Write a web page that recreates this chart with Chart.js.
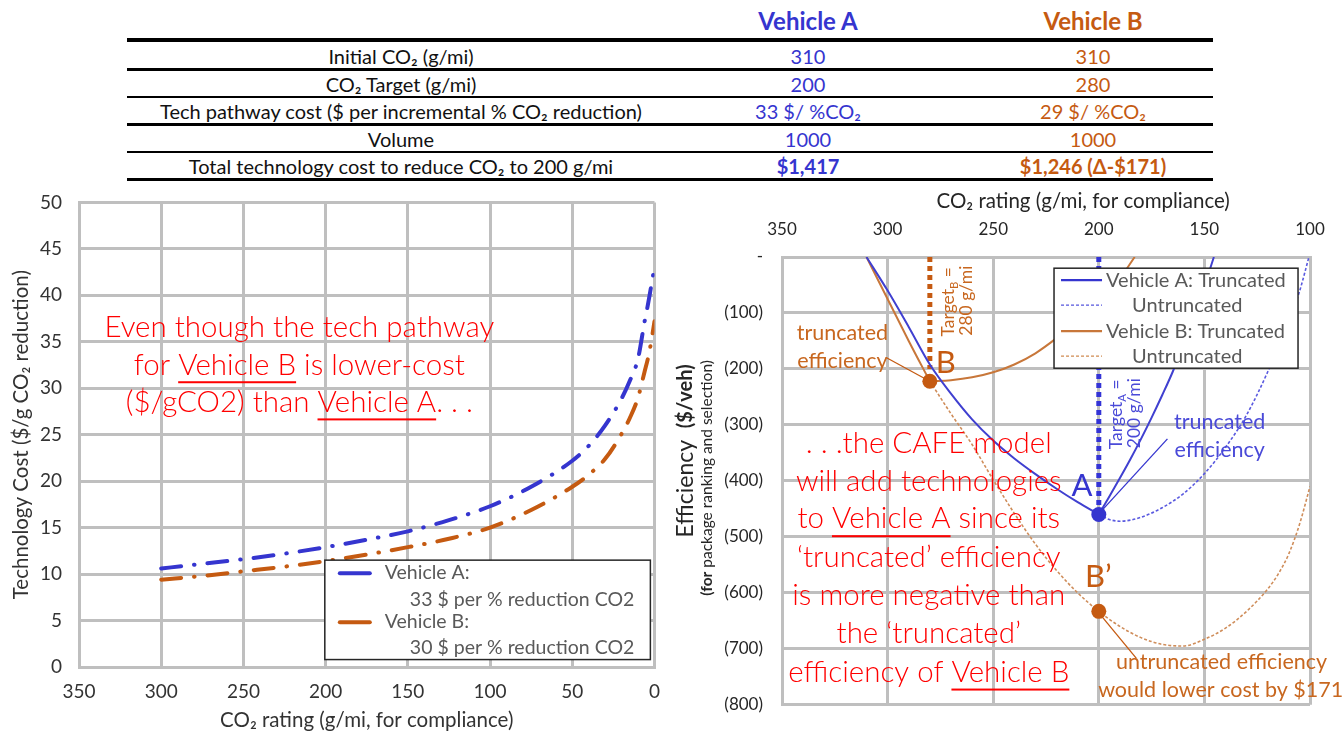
<!DOCTYPE html>
<html><head><meta charset="utf-8">
<script src="https://cdn.jsdelivr.net/npm/chart.js@4.4.1/dist/chart.umd.min.js"></script>
<style>
html,body{margin:0;padding:0;background:#fff;width:1344px;height:734px;overflow:hidden;font-family:Lato,'Open Sans','DejaVu Sans',sans-serif;}
.cell{position:absolute;text-align:center;white-space:nowrap;font-size:20px;line-height:24px;height:24px;}
.hline{position:absolute;left:127px;width:1086px;background:#000;}
#leftWrap{position:absolute;left:0;top:174px;width:673px;height:560px;}
#rightWrap{position:absolute;left:670px;top:185px;width:674px;height:549px;}
</style></head>
<body>
<div id="table"></div>
<div id="leftWrap"><canvas id="leftChart"></canvas></div>
<div id="rightWrap"><canvas id="rightChart"></canvas></div>
<script>
// ---------------- DATA ----------------
const tableHeaders = ['Vehicle A', 'Vehicle B'];
const rowLabels = ['Initial CO₂ (g/mi)', 'CO₂ Target (g/mi)', 'Tech pathway cost ($ per incremental % CO₂ reduction)', 'Volume', 'Total technology cost to reduce CO₂ to 200 g/mi'];
const vehA = ['310', '200', '33 $/ %CO₂', '1000', '$1,417'];
const vehB = ['310', '280', '29 $/ %CO₂', '1000', '$1,246 (Δ-$171)'];

// Left chart: technology cost vs CO2 rating
const leftXTicks = [350, 300, 250, 200, 150, 100, 50, 0];
const leftYTicks = [0, 5, 10, 15, 20, 25, 30, 35, 40, 45, 50];
const co2Left = [300, 275, 250, 225, 200, 175, 150, 125, 100, 75, 50, 40, 30, 20, 15, 10, 6, 4, 2, 0];
const costA = [10.6, 11.1, 11.6, 12.2, 12.9, 13.7, 14.6, 15.8, 17.3, 19.4, 22.2, 23.8, 26.0, 28.9, 30.8, 33.2, 37.2, 39.0, 41.0, 43.0];
const costB = [9.4, 9.8, 10.3, 10.8, 11.4, 12.1, 12.9, 13.8, 15.0, 16.9, 19.4, 20.7, 22.4, 25.1, 26.8, 29.0, 31.8, 33.2, 35.0, 37.2];
const leftLegend = ['Vehicle A:', '33 $ per % reduction CO2', 'Vehicle B:', '30 $ per % reduction CO2'];

// Right chart: efficiency vs CO2 rating
const rightXTicks = [350, 300, 250, 200, 150, 100];
const rightYTicks = [0, -100, -200, -300, -400, -500, -600, -700, -800];
const aTruncLeftX = [310, 300, 290, 280, 270, 260, 250, 240, 230, 220, 210, 200];
const aTruncLeftY = [0, -60, -125, -192, -244, -290, -328, -360, -388, -414, -438, -460];
const aTruncRightX = [200, 195, 190, 185, 180, 175, 170, 165, 160, 155, 150, 145.5];
const aTruncRightY = [-460, -428, -395, -361, -325, -287, -247, -205, -157, -106, -52, 0];
const aUntruncX = [200, 195, 190, 185, 180, 170, 160, 150, 140, 130, 120, 110, 105, 100.5];
const aUntruncY = [-460, -469, -472, -470, -465, -448, -423, -387, -340, -282, -205, -115, -62, 0];
const bTruncLeftX = [310, 300, 290, 280];
const bTruncLeftY = [0, -75, -150, -222];
const bTruncRightX = [280, 270, 260, 250, 240, 230, 220, 210, 200, 190, 183];
const bTruncRightY = [-222, -220, -215, -206, -192, -172, -145, -114, -78, -38, 0];
const bUntruncX = [280, 270, 260, 250, 240, 230, 220, 210, 200, 190, 180, 170, 160, 150, 140, 130, 120, 115, 110, 105, 100];
const bUntruncY = [-222, -280, -335, -398, -458, -513, -560, -600, -633, -660, -680, -692, -695, -683, -663, -633, -593, -566, -530, -478, -410];
const targetBX = [280, 280], targetBY = [0, -200];
const targetAX = [200, 200], targetAY = [0, -455];
const markerX = [200, 280, 200];
const markerY = [-460, -222, -633];
const rightLegend = ['Vehicle A: Truncated', 'Untruncated', 'Vehicle B: Truncated', 'Untruncated'];

// ---------------- STYLE ----------------
const BLUE = '#3535cf', ORANGE = '#c55a11', RED = '#ff0000', GRID = '#bfbfbf', TXT = '#333333', LEG = '#595959';
const LBLUE = '#4a4ad8', LORANGE = '#c8671f';
const FF = "Lato, 'Open Sans', 'DejaVu Sans', sans-serif";
const zip = (xs, ys) => xs.map((x, i) => ({x, y: ys[i]}));

// ---------------- TABLE ----------------
(function buildTable() {
  const t = document.getElementById('table');
  const add = (html, cx, top, style) => {
    const d = document.createElement('div');
    d.className = 'cell';
    d.style.left = (cx - 300) + 'px'; d.style.width = '600px'; d.style.top = top + 'px';
    d.style.cssText += style || '';
    d.innerHTML = html; t.appendChild(d);
  };
  const colA = 808, colB = 1093, colL = 401;
  add(tableHeaders[0], colA, 7, 'font-size:24px;line-height:28px;height:28px;font-weight:bold;color:' + BLUE);
  add(tableHeaders[1], colB, 7, 'font-size:24px;line-height:28px;height:28px;font-weight:bold;color:' + ORANGE);
  const lineYs = [69, 96.5, 124, 151.5, 179];
  rowLabels.forEach((lab, i) => {
    const top = 56 + i * 27.5 - 12;
    const last = i === rowLabels.length - 1;
    add(lab, colL, top, 'color:#111');
    add(vehA[i], colA, top, 'color:' + BLUE + (last ? ';font-weight:bold' : ''));
    add(vehB[i], colB, top, 'color:' + ORANGE + (last ? ';font-weight:bold' : ''));
  });
  const thick = document.createElement('div'); thick.className = 'hline';
  thick.style.top = '38px'; thick.style.height = '4px'; t.appendChild(thick);
  lineYs.forEach(y => {
    const l = document.createElement('div'); l.className = 'hline';
    l.style.top = (y - 1) + 'px'; l.style.height = '2.5px'; t.appendChild(l);
  });
})();

// ---------------- TEXT HELPERS ----------------
function richLine(ctx, segs, cx, cy, size, color, weight) {
  const w = weight || '300';
  const fontOf = s => (s.b ? 'bold' : w) + ' ' + (s.sub ? size * 0.65 : (s.size || size)) + 'px ' + FF;
  const widths = segs.map(s => { ctx.font = fontOf(s); return ctx.measureText(s.t).width; });
  const total = widths.reduce((a, b) => a + b, 0);
  let x = cx - total / 2;
  ctx.fillStyle = color; ctx.textBaseline = 'middle'; ctx.textAlign = 'left';
  segs.forEach((s, i) => {
    ctx.font = fontOf(s);
    ctx.fillText(s.t, x, cy + (s.sub ? size * 0.3 : 0));
    if (s.u) ctx.fillRect(x, cy + size * 0.55, widths[i], 2);
    x += widths[i];
  });
}
const S = t => (typeof t === 'string' ? [{t}] : t);
function rotText(ctx, segs, cx, cy, size, color, weight) {
  ctx.save(); ctx.translate(cx, cy); ctx.rotate(-Math.PI / 2);
  richLine(ctx, S(segs), 0, 0, size, color, weight);
  ctx.restore();
}

// ---------------- LEFT CHART ----------------
const leftPlugin = {
  id: 'leftAnno',
  afterDraw(chart) {
    const {ctx, scales: {x, y}} = chart;
    ctx.save();
    const cx = x.getPixelForValue(216);
    const lines = [
      [{t: 'Even though the tech pathway'}],
      [{t: 'for '}, {t: 'Vehicle B', u: 1}, {t: ' is lower-cost'}],
      [{t: '($/gCO2) than '}, {t: 'Vehicle A', u: 1}, {t: '. . .'}]
    ];
    const ly = [36.5, 32.5, 28.5];
    lines.forEach((l, i) => richLine(ctx, l, cx, y.getPixelForValue(ly[i]), 29.5, RED));
    // legend
    const L = x.getPixelForValue(200.5), R = x.getPixelForValue(2.5);
    const T = y.getPixelForValue(11.5), B = y.getPixelForValue(0.8);
    ctx.fillStyle = '#fff'; ctx.fillRect(L, T, R - L, B - T);
    ctx.strokeStyle = '#262626'; ctx.lineWidth = 1.5; ctx.strokeRect(L, T, R - L, B - T);
    const rows = [13, 40, 62, 88];
    ctx.lineCap = 'round'; ctx.lineWidth = 4;
    [[BLUE, rows[0]], [ORANGE, rows[2]]].forEach(([c, r]) => {
      ctx.strokeStyle = c; ctx.beginPath(); ctx.moveTo(L + 15, T + r); ctx.lineTo(L + 45, T + r); ctx.stroke();
    });
    ctx.font = '19.5px ' + FF; ctx.fillStyle = LEG; ctx.textBaseline = 'middle'; ctx.textAlign = 'left';
    ctx.fillText(leftLegend[0], L + 60, T + rows[0]);
    ctx.fillText(leftLegend[1], L + 85, T + rows[1]);
    ctx.fillText(leftLegend[2], L + 60, T + rows[2]);
    ctx.fillText(leftLegend[3], L + 85, T + rows[3]);
    ctx.restore();
  }
};

new Chart(document.getElementById('leftChart'), {
  type: 'line',
  data: {
    datasets: [
      {label: 'Vehicle A', data: zip(co2Left, costA), borderColor: BLUE, borderWidth: 4, borderDash: [20, 13, 0.5, 13], borderCapStyle: 'round', pointRadius: 0, cubicInterpolationMode: 'monotone'},
      {label: 'Vehicle B', data: zip(co2Left, costB), borderColor: ORANGE, borderWidth: 4, borderDash: [20, 13, 0.5, 13], borderCapStyle: 'round', pointRadius: 0, cubicInterpolationMode: 'monotone'}
    ]
  },
  options: {
    responsive: true, maintainAspectRatio: false, animation: false, devicePixelRatio: 1,
    layout: {padding: {top: 4, right: 8, bottom: 1, left: 0}},
    plugins: {legend: {display: false}, tooltip: {enabled: false}},
    scales: {
      x: {
        type: 'linear', min: 0, max: 350, reverse: true,
        afterBuildTicks: s => { s.ticks = leftXTicks.map(v => ({value: v})); },
        afterFit: s => { s.height = 66; },
        grid: {color: GRID, lineWidth: 3, drawTicks: false},
        border: {color: GRID, width: 3},
        ticks: {padding: 13, color: TXT, font: {family: FF, size: 19}, maxRotation: 0},
        title: {display: true, text: 'CO₂ rating (g/mi, for compliance)', color: TXT, font: {family: FF, size: 20.5}, padding: {top: 0, bottom: 0}}
      },
      y: {
        type: 'linear', min: 0, max: 50,
        afterBuildTicks: s => { s.ticks = leftYTicks.map(v => ({value: v})); },
        afterFit: s => { s.width = 79; },
        grid: {color: GRID, lineWidth: 3, drawTicks: false},
        border: {color: GRID, width: 3},
        ticks: {padding: 17, color: TXT, font: {family: FF, size: 19}},
        title: {display: true, text: 'Technology Cost ($/g CO₂ reduction)', color: TXT, font: {family: FF, size: 20.5}, padding: {top: 9, bottom: 0}}
      }
    }
  },
  plugins: [leftPlugin]
});

// ---------------- RIGHT CHART ----------------
const rightPlugin = {
  id: 'rightAnno',
  afterDatasetsDraw(chart) {
    const {ctx, scales: {x, y}, chartArea: ca} = chart;
    const P = (vx, vy) => [x.getPixelForValue(vx), y.getPixelForValue(vy)];
    ctx.save();
    // axis titles
    richLine(ctx, [{t: 'CO₂ rating (g/mi, for compliance)'}], x.getPixelForValue(207.4), ca.top - 56, 20.5, '#262626', '400');
    rotText(ctx, [{t: 'Efficiency  '}, {t: '($/veh)', b: 1, size: 20}], 16, (ca.top + ca.bottom) / 2 - 30, 23, '#262626', '400');
    rotText(ctx, [{t: '(for', b: 1}, {t: ' package ranking and selection)'}], 37, (ca.top + ca.bottom) / 2 - 3, 15.5, '#262626', '400');
    // leader lines
    ctx.lineWidth = 1.3;
    ctx.strokeStyle = ORANGE;
    let a = P(300.5, -180), b = P(282, -218);
    ctx.beginPath(); ctx.moveTo(a[0], a[1]); ctx.lineTo(b[0], b[1]); ctx.stroke();
    a = P(198.8, -641); b = P(182.2, -717);
    ctx.beginPath(); ctx.moveTo(a[0], a[1]); ctx.lineTo(b[0], b[1]); ctx.stroke();
    ctx.strokeStyle = BLUE;
    a = P(167.5, -325); b = P(199.8, -458);
    ctx.beginPath(); ctx.moveTo(a[0], a[1]); ctx.lineTo(b[0], b[1]); ctx.stroke();
    // small labels
    const lab = (t, vx, vy, size, color) => { const p = P(vx, vy); richLine(ctx, S(t), p[0], p[1], size, color, '400'); };
    lab('truncated', 321.4, -135, 21.5, LORANGE);
    lab('efficiency', 321.4, -186, 21.5, LORANGE);
    lab('B', 272.5, -189, 31, ORANGE);
    lab('truncated', 142.8, -294, 21.5, LBLUE);
    lab('efficiency', 142.8, -345, 21.5, LBLUE);
    lab('A', 208, -410, 31, BLUE);
    lab('B’', 200.2, -572, 31, ORANGE);
    lab('untruncated efficiency', 141.9, -724, 21.5, LORANGE);
    lab('would lower cost by $171', 142.3, -774, 21.5, LORANGE);
    let p = P(271, -80); rotText(ctx, [{t: 'Target'}, {t: 'B', sub: 1}, {t: ' ='}], p[0], p[1], 17.5, LORANGE, '400');
    p = P(262.5, -78); rotText(ctx, '280 g/mi', p[0], p[1], 17.5, LORANGE, '400');
    p = P(191.5, -281); rotText(ctx, [{t: 'Target'}, {t: 'A', sub: 1}, {t: ' ='}], p[0], p[1], 17.5, LBLUE, '400');
    p = P(183, -279); rotText(ctx, '200 g/mi', p[0], p[1], 17.5, LBLUE, '400');
    // red annotation
    const red = [
      [{t: '. . .the CAFE model'}],
      [{t: 'will add technologies'}],
      [{t: 'to '}, {t: 'Vehicle A', u: 1}, {t: ' since its'}],
      [{t: '‘truncated’ efficiency'}],
      [{t: 'is more negative than'}],
      [{t: 'the ‘truncated’'}],
      [{t: 'efficiency of '}, {t: 'Vehicle B', u: 1}]
    ];
    const ry = [-334, -401, -468, -537, -604, -673, -742];
    red.forEach((l, i) => { const q = P(280.5, ry[i]); richLine(ctx, l, q[0], q[1], 29.5, RED); });
    // legend
    const L = x.getPixelForValue(221.2), T = y.getPixelForValue(-20);
    const W = 244, H = 100;
    ctx.fillStyle = '#fff'; ctx.fillRect(L, T, W, H);
    ctx.strokeStyle = '#262626'; ctx.lineWidth = 1.5; ctx.strokeRect(L, T, W, H);
    const rows = [12, 37, 63, 88];
    const styles = [[BLUE, 2.2, []], ['#5555dd', 1.3, [3, 2]], ['#c8773a', 2.2, []], ['#d08a50', 1.3, [3, 2]]];
    styles.forEach((s, i) => {
      ctx.strokeStyle = s[0]; ctx.lineWidth = s[1]; ctx.setLineDash(s[2]);
      ctx.beginPath(); ctx.moveTo(L + 7, T + rows[i]); ctx.lineTo(L + 48, T + rows[i]); ctx.stroke();
    });
    ctx.setLineDash([]);
    ctx.font = '20px ' + FF; ctx.fillStyle = LEG; ctx.textAlign = 'left'; ctx.textBaseline = 'middle';
    ctx.fillText(rightLegend[0], L + 52, T + rows[0]);
    ctx.fillText(rightLegend[1], L + 78, T + rows[1]);
    ctx.fillText(rightLegend[2], L + 52, T + rows[2]);
    ctx.fillText(rightLegend[3], L + 78, T + rows[3]);
    ctx.restore();
  }
};

const solid = (data, color) => ({data, borderColor: color, borderWidth: 2, pointRadius: 0, cubicInterpolationMode: 'monotone', fill: false});
const dashed = (data, color) => ({data, borderColor: color, borderWidth: 1.6, borderDash: [3, 2], pointRadius: 0, cubicInterpolationMode: 'monotone', fill: false});

new Chart(document.getElementById('rightChart'), {
  type: 'line',
  data: {
    datasets: [
      {label: 'Points', data: zip(markerX, markerY), showLine: false, pointRadius: 7.5, pointHoverRadius: 7.5,
       pointBackgroundColor: [BLUE, ORANGE, ORANGE], pointBorderColor: [BLUE, ORANGE, ORANGE], pointBorderWidth: 0},
      solid(zip(aTruncLeftX, aTruncLeftY), '#4040d0'),
      solid(zip(aTruncRightX, aTruncRightY), '#4040d0'),
      dashed(zip(aUntruncX, aUntruncY), '#5a5ae0'),
      solid(zip(bTruncLeftX, bTruncLeftY), '#c8773a'),
      solid(zip(bTruncRightX, bTruncRightY), '#c8773a'),
      dashed(zip(bUntruncX, bUntruncY), '#cf8d5a'),
      {data: zip(targetBX, targetBY), borderColor: ORANGE, borderWidth: 5, borderDash: [5, 4], pointRadius: 0},
      {data: zip(targetAX, targetAY), borderColor: '#3333d6', borderWidth: 5, borderDash: [5, 4], pointRadius: 0}
    ]
  },
  options: {
    responsive: true, maintainAspectRatio: false, animation: false, devicePixelRatio: 1,
    layout: {padding: {top: 0, right: 34, bottom: 24, left: 0}},
    plugins: {legend: {display: false}, tooltip: {enabled: false}},
    scales: {
      x: {
        type: 'linear', position: 'top', min: 100, max: 350, reverse: true,
        afterBuildTicks: s => { s.ticks = rightXTicks.map(v => ({value: v})); },
        afterFit: s => { s.height = 72; },
        grid: {color: GRID, lineWidth: 3, drawTicks: false},
        border: {color: GRID, width: 3},
        ticks: {padding: 17, color: '#262626', font: {family: FF, size: 17}, maxRotation: 0}
      },
      y: {
        type: 'linear', min: -800, max: 0,
        afterBuildTicks: s => { s.ticks = rightYTicks.map(v => ({value: v})); },
        afterFit: s => { s.width = 112; },
        grid: {color: GRID, lineWidth: 3, drawTicks: false},
        border: {color: GRID, width: 3},
        ticks: {padding: 19, color: '#262626', font: {family: FF, size: 17},
                callback: v => (v === 0 ? '-' : '(' + Math.abs(v) + ')')}
      }
    }
  },
  plugins: [rightPlugin]
});
</script>
</body></html>
